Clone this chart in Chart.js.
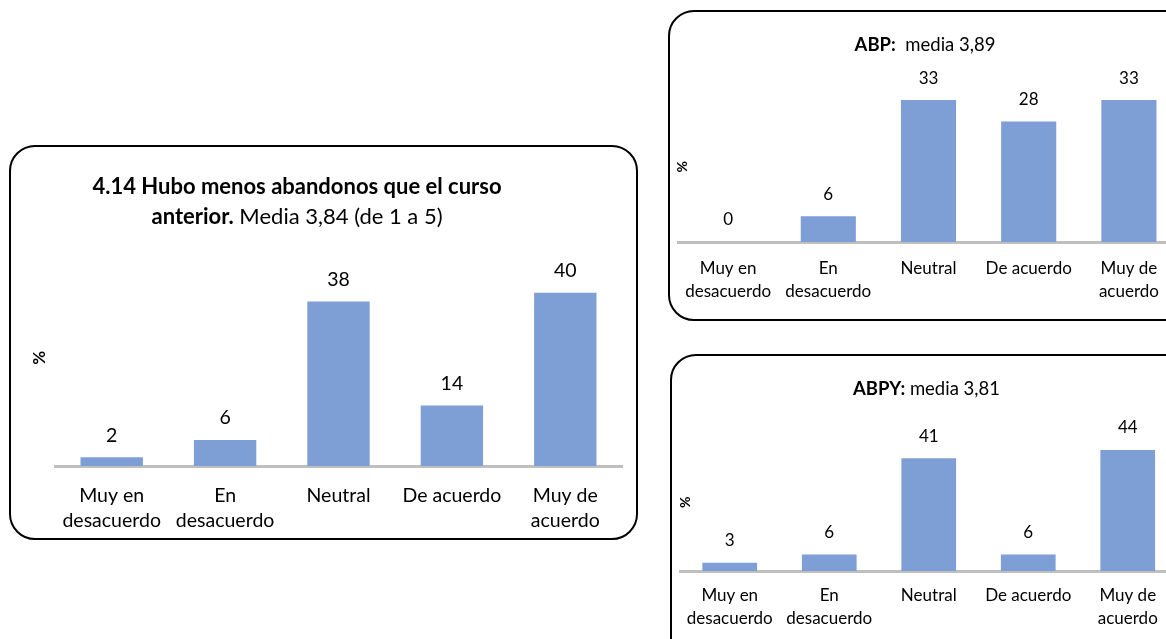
<!DOCTYPE html>
<html lang="es">
<head>
<meta charset="utf-8">
<title>Abandonos respecto al curso anterior</title>
<script src="https://cdn.jsdelivr.net/npm/chart.js@4.4.1/dist/chart.umd.min.js"></script>
<style>
  html, body { margin: 0; padding: 0; background: #fff; }
  body { width: 1166px; height: 639px; overflow: hidden; position: relative; font-family: Lato, "Open Sans", sans-serif; }
  .panel { position: absolute; border: 2px solid #000; border-radius: 26px; box-sizing: border-box; background: #fff; }
  .panel canvas { position: absolute; left: -2px; top: -2px; }
</style>
</head>
<body>
<div class="panel" id="p1" style="left:9px;top:145px;width:629px;height:395px;"><canvas id="c1"></canvas></div>
<div class="panel" id="p2" style="left:668px;top:10px;width:540px;height:311px;"><canvas id="c2"></canvas></div>
<div class="panel" id="p3" style="left:670px;top:354px;width:540px;height:320px;"><canvas id="c3"></canvas></div>
<script>
// Response categories (Likert scale 1-5)
const categories = [
  ['Muy en', 'desacuerdo'],
  ['En', 'desacuerdo'],
  'Neutral',
  'De acuerdo',
  ['Muy de', 'acuerdo']
];

// Percentages per category
const totalValues = [2, 6, 38, 14, 40];
const abpValues   = [0, 6, 33, 28, 33];
const abpyValues  = [3, 6, 41, 6, 44];

// Titles: [bold part, regular part] per line
const totalTitle = [
  ['4.14 Hubo menos abandonos que el curso', ''],
  ['anterior.', ' Media 3,84 (de 1 a 5)']
];
const abpTitle  = [['ABP:', '  media 3,89']];
const abpyTitle = [['ABPY:', ' media 3,81']];

const yAxisLabel = '%';

const BAR = '#7E9ED6';
const AXIS = '#BFBFBF';
const FONT = 'Lato, "Open Sans", sans-serif';

// Draws the value above each bar
const valueLabels = {
  id: 'valueLabels',
  afterDatasetsDraw(chart, args, opts) {
    const { ctx } = chart;
    const meta = chart.getDatasetMeta(0);
    const data = chart.data.datasets[0].data;
    ctx.save();
    ctx.font = `${opts.size}px ${FONT}`;
    ctx.fillStyle = '#000';
    ctx.textAlign = 'center';
    ctx.textBaseline = 'middle';
    meta.data.forEach((bar, i) => {
      ctx.fillText(String(data[i]), bar.x, bar.y - opts.offset);
    });
    ctx.restore();
  }
};

// Centered title lines with a bold lead-in followed by regular text
const mixedTitle = {
  id: 'mixedTitle',
  afterDraw(chart, args, opts) {
    const { ctx } = chart;
    ctx.save();
    ctx.fillStyle = '#000';
    ctx.textBaseline = 'middle';
    ctx.textAlign = 'left';
    opts.lines.forEach((parts, i) => {
      const boldFont = `bold ${opts.size}px ${FONT}`;
      const regFont = `${opts.size}px ${FONT}`;
      ctx.font = boldFont;
      const wb = ctx.measureText(parts[0]).width;
      ctx.font = regFont;
      const wr = ctx.measureText(parts[1]).width;
      let x = opts.x - (wb + wr) / 2;
      const y = opts.y + i * opts.lineGap;
      ctx.font = boldFont;
      ctx.fillText(parts[0], x, y);
      ctx.font = regFont;
      ctx.fillText(parts[1], x + wb, y);
    });
    ctx.restore();
  }
};

function makeChart(id, cfg) {
  const canvas = document.getElementById(id);
  canvas.width = cfg.w;
  canvas.height = cfg.h;
  canvas.style.width = cfg.w + 'px';
  canvas.style.height = cfg.h + 'px';
  return new Chart(canvas, {
    type: 'bar',
    data: {
      labels: categories,
      datasets: [{
        data: cfg.values,
        backgroundColor: BAR,
        borderWidth: 0,
        categoryPercentage: 1,
        barPercentage: 0.55
      }]
    },
    options: {
      responsive: false,
      animation: false,
      devicePixelRatio: 1,
      layout: { padding: { top: cfg.padTop, right: cfg.padRight, bottom: 0, left: 0 } },
      plugins: {
        legend: { display: false },
        tooltip: { enabled: false },
        valueLabels: { size: cfg.valueSize, offset: cfg.valueOffset },
        mixedTitle: { lines: cfg.title, size: cfg.titleSize, x: cfg.titleX, y: cfg.titleY, lineGap: cfg.titleGap }
      },
      scales: {
        x: {
          grid: { display: false, drawTicks: false },
          border: { display: true, color: AXIS, width: 3 },
          ticks: {
            color: '#000',
            font: { family: FONT, size: cfg.tickSize, lineHeight: cfg.tickLine },
            padding: cfg.tickPad,
            maxRotation: 0,
            autoSkip: false
          },
          afterFit(scale) { scale.height = cfg.xHeight; }
        },
        y: {
          min: 0,
          max: cfg.yMax,
          grid: { display: false, drawTicks: false },
          border: { display: false },
          ticks: { display: false },
          title: {
            display: true,
            text: yAxisLabel,
            color: '#000',
            font: { family: FONT, size: cfg.pctSize, weight: 'bold', lineHeight: 1.2 },
            padding: { top: cfg.pctPad, bottom: 0 }
          },
          afterFit(scale) { scale.width = cfg.yWidth; }
        }
      }
    },
    plugins: [valueLabels, mixedTitle]
  });
}

// Overall results
makeChart('c1', {
  w: 629, h: 395, values: totalValues, yMax: 50,
  padTop: 104.5, padRight: 16, yWidth: 46, xHeight: 74,
  tickSize: 19.5, tickLine: 1.28, tickPad: 17,
  valueSize: 19.5, valueOffset: 22,
  pctSize: 17, pctPad: 20,
  title: totalTitle, titleSize: 22, titleX: 288, titleY: 42, titleGap: 30
});

// ABP group
makeChart('c2', {
  w: 540, h: 311, values: abpValues, yMax: 35,
  padTop: 81.5, padRight: 29, yWidth: 10, xHeight: 79,
  tickSize: 17, tickLine: 1.35, tickPad: 15,
  valueSize: 17, valueOffset: 22,
  pctSize: 14, pctPad: 6,
  title: abpTitle, titleSize: 18.5, titleX: 257, titleY: 35, titleGap: 0
});

// ABPY group
makeChart('c3', {
  w: 540, h: 320, values: abpyValues, yMax: 50,
  padTop: 79.5, padRight: 32.5, yWidth: 10, xHeight: 103,
  tickSize: 17, tickLine: 1.35, tickPad: 13,
  valueSize: 17, valueOffset: 22,
  pctSize: 14, pctPad: 7,
  title: abpyTitle, titleSize: 18.5, titleX: 256.5, titleY: 35, titleGap: 0
});
</script>
</body>
</html>
